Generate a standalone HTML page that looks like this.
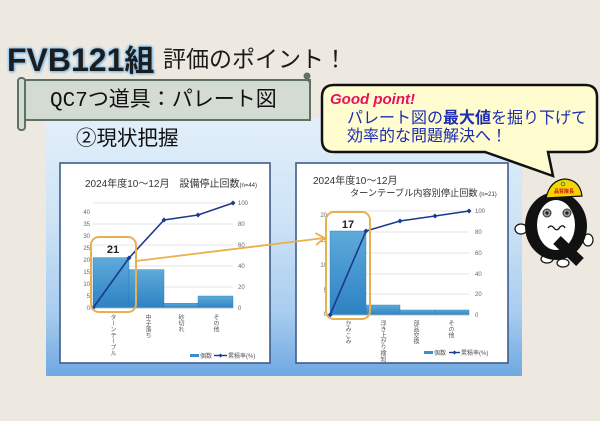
<!DOCTYPE html>
<html><head><meta charset="utf-8">
<style>
html,body{margin:0;padding:0;}
body{width:600px;height:421px;position:relative;overflow:hidden;background:#EDE9E0;font-family:"Liberation Sans","Noto Sans CJK JP",sans-serif;}
.abs{position:absolute;white-space:nowrap;}
.vt{position:absolute;writing-mode:vertical-rl;font-size:6px;line-height:6px;color:#555;font-family:"Liberation Sans","Noto Sans CJK JP",sans-serif;white-space:nowrap;}
</style></head><body>

<!-- blue panel -->
<div class="abs" style="left:46px;top:118px;width:476px;height:258px;background:linear-gradient(to bottom,#e2effa 0%,#cde3f6 40%,#a9cdef 75%,#6fa8e2 100%);"></div>

<svg class="abs" style="left:0;top:0" width="600" height="421" viewBox="0 0 600 421" xmlns="http://www.w3.org/2000/svg">
<defs>
<linearGradient id="bar" x1="0" y1="0" x2="0" y2="1">
<stop offset="0" stop-color="#5eaadb"/><stop offset="1" stop-color="#2d82c2"/>
</linearGradient>
</defs>

<!-- banner -->
<rect x="18" y="78" width="7" height="52" rx="3" fill="#D3DBD2" stroke="#5E7264" stroke-width="2"/>
<rect x="25" y="80" width="285" height="40" fill="#D3DBD2" stroke="#5E7264" stroke-width="2"/>
<circle cx="307" cy="76" r="3.5" fill="#5E7264"/>
<line x1="307" y1="76" x2="309" y2="82" stroke="#5E7264" stroke-width="2"/>

<!-- speech bubble -->
<path d="M 334 85 H 585 Q 597 85 597 97 V 140 Q 597 152 585 152 H 548 L 553 176 L 485 152 H 334 Q 322 152 322 140 V 97 Q 322 85 334 85 Z" fill="#FFFCCF" stroke="#111" stroke-width="2.5"/>

<!-- LEFT CHART -->
<rect x="60" y="163" width="210" height="200" fill="#fff" stroke="#3f5d8c" stroke-width="1.6"/>
<g stroke="#dcdcdc" stroke-width="0.8">
<line x1="93" y1="203" x2="233" y2="203"/><line x1="93" y1="224" x2="233" y2="224"/>
<line x1="93" y1="245" x2="233" y2="245"/><line x1="93" y1="266" x2="233" y2="266"/>
<line x1="93" y1="287" x2="233" y2="287"/>
</g>
<g fill="url(#bar)" stroke="#2a78b5" stroke-width="0.4">
<rect x="93" y="257.6" width="36" height="50.4"/>
<rect x="129" y="269.6" width="35" height="38.4"/>
<rect x="164" y="303.2" width="34" height="4.8"/>
<rect x="198" y="296" width="35" height="12"/>
</g>
<line x1="93" y1="308" x2="233" y2="308" stroke="#bbb" stroke-width="0.8"/>
<g font-size="6" fill="#666" text-anchor="end">
<text x="90" y="214">40</text><text x="90" y="226">35</text><text x="90" y="238">30</text>
<text x="90" y="250">25</text><text x="90" y="262">20</text><text x="90" y="274">15</text>
<text x="90" y="286">10</text><text x="90" y="298">5</text><text x="90" y="310">0</text>
</g>
<g font-size="6" fill="#666">
<text x="238" y="205">100</text><text x="238" y="226">80</text><text x="238" y="247">60</text>
<text x="238" y="268">40</text><text x="238" y="289">20</text><text x="238" y="310">0</text>
</g>
<polyline points="93,308 129,258 164,220 198,215 233,203" fill="none" stroke="#1B3A8C" stroke-width="1.6"/>
<g fill="#1B3A8C">
<path d="M93 305.5 L95.5 308 L93 310.5 L90.5 308Z"/><path d="M129 255.5 L131.5 258 L129 260.5 L126.5 258Z"/>
<path d="M164 217.5 L166.5 220 L164 222.5 L161.5 220Z"/><path d="M198 212.5 L200.5 215 L198 217.5 L195.5 215Z"/>
<path d="M233 200.5 L235.5 203 L233 205.5 L230.5 203Z"/>
</g>
<text x="85" y="187" font-size="10" fill="#333">2024年度10〜12月　設備停止回数<tspan font-size="6">(n=44)</tspan></text>
<rect x="91" y="237" width="45" height="75" rx="8" fill="none" stroke="#E9B04E" stroke-width="2"/>
<text x="113" y="253" font-size="11" font-weight="bold" fill="#222" text-anchor="middle">21</text>
<!-- legend left -->
<rect x="190" y="354" width="9" height="3" fill="#3b8fcc"/>
<text x="200" y="358" font-size="6" fill="#555">個数</text>
<line x1="214" y1="355.5" x2="227" y2="355.5" stroke="#1B3A8C" stroke-width="1.4"/>
<path d="M220.5 353.5 L222.5 355.5 L220.5 357.5 L218.5 355.5Z" fill="#1B3A8C"/>
<text x="228" y="358" font-size="6" fill="#555">累積率(%)</text>

<!-- RIGHT CHART -->
<rect x="296" y="163" width="212" height="200" fill="#fff" stroke="#3f5d8c" stroke-width="1.6"/>
<g stroke="#dcdcdc" stroke-width="0.8">
<line x1="330" y1="211" x2="469" y2="211"/><line x1="330" y1="232" x2="469" y2="232"/>
<line x1="330" y1="253" x2="469" y2="253"/><line x1="330" y1="274" x2="469" y2="274"/>
<line x1="330" y1="294" x2="469" y2="294"/>
</g>
<g fill="url(#bar)" stroke="#2a78b5" stroke-width="0.4">
<rect x="330" y="231" width="36" height="84"/>
<rect x="366" y="305" width="34" height="10"/>
<rect x="400" y="310" width="35" height="5"/>
<rect x="435" y="310" width="34" height="5"/>
</g>
<line x1="330" y1="315" x2="469" y2="315" stroke="#bbb" stroke-width="0.8"/>
<g font-size="6" fill="#666" text-anchor="end">
<text x="327" y="217">20</text><text x="327" y="242">15</text><text x="327" y="267">10</text>
<text x="327" y="292">5</text><text x="327" y="316">0</text>
</g>
<g font-size="6" fill="#666">
<text x="475" y="213">100</text><text x="475" y="234">80</text><text x="475" y="255">60</text>
<text x="475" y="276">40</text><text x="475" y="296">20</text><text x="475" y="317">0</text>
</g>
<polyline points="330,315 366,231 400,221 435,216 469,211" fill="none" stroke="#1B3A8C" stroke-width="1.6"/>
<g fill="#1B3A8C">
<path d="M330 312.5 L332.5 315 L330 317.5 L327.5 315Z"/><path d="M366 228.5 L368.5 231 L366 233.5 L363.5 231Z"/>
<path d="M400 218.5 L402.5 221 L400 223.5 L397.5 221Z"/><path d="M435 213.5 L437.5 216 L435 218.5 L432.5 216Z"/>
<path d="M469 208.5 L471.5 211 L469 213.5 L466.5 211Z"/>
</g>
<text x="313" y="184" font-size="10" fill="#333">2024年度10〜12月</text>
<text x="350" y="196" font-size="9.2" fill="#333">ターンテーブル内容別停止回数<tspan font-size="6"> (n=21)</tspan></text>
<rect x="326" y="212" width="44" height="107" rx="8" fill="none" stroke="#E9B04E" stroke-width="2"/>
<text x="348" y="228" font-size="11" font-weight="bold" fill="#222" text-anchor="middle">17</text>
<!-- legend right -->
<rect x="424" y="351" width="9" height="3" fill="#3b8fcc"/>
<text x="434" y="355" font-size="6" fill="#555">個数</text>
<line x1="449" y1="352.5" x2="460" y2="352.5" stroke="#1B3A8C" stroke-width="1.4"/>
<path d="M454.5 350.5 L456.5 352.5 L454.5 354.5 L452.5 352.5Z" fill="#1B3A8C"/>
<text x="461" y="355" font-size="6" fill="#555">累積率(%)</text>

<!-- arrow -->
<line x1="136" y1="261" x2="324" y2="238" stroke="#E9B04E" stroke-width="1.8"/>
<polyline points="315.5,233 324.5,238 316,245" fill="none" stroke="#E9B04E" stroke-width="1.8"/>

<!-- mascot -->
<ellipse cx="521" cy="229" rx="6" ry="5" fill="#fff" stroke="#111" stroke-width="1.2"/>
<ellipse cx="588" cy="240" rx="5" ry="6" fill="#fff" stroke="#111" stroke-width="1.2"/>
<ellipse cx="547" cy="259" rx="6" ry="4" fill="#fff" stroke="#111" stroke-width="1.2"/>
<ellipse cx="563" cy="263" rx="6" ry="4" fill="#fff" stroke="#111" stroke-width="1.2"/>
<ellipse cx="556" cy="226" rx="31" ry="34" fill="#111"/>
<ellipse cx="556" cy="225" rx="19" ry="25" fill="#fff"/>
<line x1="557" y1="240" x2="580" y2="262" stroke="#111" stroke-width="11"/>
<circle cx="547" cy="213" r="4" fill="#999" stroke="#333" stroke-width="1"/>
<circle cx="547" cy="213" r="1.6" fill="#222"/>
<circle cx="567" cy="213" r="4" fill="#999" stroke="#333" stroke-width="1"/>
<circle cx="567" cy="213" r="1.6" fill="#222"/>
<path d="M548 228 Q551 224 554 228 Q557 232 560 227 Q563 224 565 228" fill="none" stroke="#111" stroke-width="1.3"/>
<path d="M546 198 Q550 180 565 179 Q580 180 582 196 Z" fill="#F6D400" stroke="#111" stroke-width="1.2"/>
<circle cx="563" cy="184" r="1.8" fill="none" stroke="#2a8a3a" stroke-width="0.9"/>
<text x="564" y="193" font-size="5" font-weight="bold" fill="#d0101c" text-anchor="middle">品質隊長</text>
</svg>

<!-- headings -->
<div class="abs" style="left:7px;top:38px;font-size:32px;font-weight:bold;color:#1d1d1d;line-height:40px;text-shadow:0 0 2px #8cc4ee,0 0 3px #8cc4ee,1px 1px 2px #6aaee6,-1px -1px 2px #b8dcf6;">FVB121<span style="font-family:'Noto Sans CJK JP',sans-serif;font-size:30px;">組</span></div>
<div class="abs" style="left:163px;top:42px;font-size:23px;line-height:30px;color:#1a1a1a;font-family:'Noto Sans CJK JP',sans-serif;">評価のポイント！</div>
<div class="abs" style="left:50px;top:84px;font-size:21px;line-height:28px;color:#111;"><span style="font-family:'Liberation Mono',monospace;">QC7</span><span style="font-family:'Noto Sans CJK JP',sans-serif;">つ道具：パレート図</span></div>
<div class="abs" style="left:76px;top:122px;font-size:20.5px;line-height:28px;color:#111;font-family:'Noto Sans CJK JP',sans-serif;">②現状把握</div>

<!-- bubble text -->
<div class="abs" style="left:330px;top:91px;font-size:15px;line-height:18px;font-weight:bold;font-style:italic;color:#E8125C;">Good point!</div>
<div class="abs" style="left:347px;top:107px;font-size:16px;line-height:18px;color:#1c2db0;font-family:'Noto Sans CJK JP',sans-serif;">パレート図の<b>最大値</b>を掘り下げて</div>
<div class="abs" style="left:347px;top:125px;font-size:16px;line-height:18px;color:#1c2db0;font-family:'Noto Sans CJK JP',sans-serif;">効率的な問題解決へ！</div>

<!-- category labels left -->
<div class="vt" style="left:109px;top:314px;">ターンテーブル</div>
<div class="vt" style="left:144px;top:314px;">中子落ち</div>
<div class="vt" style="left:177px;top:314px;">砂切れ</div>
<div class="vt" style="left:212px;top:314px;">その他</div>
<!-- category labels right -->
<div class="vt" style="left:344px;top:320px;">かみこみ</div>
<div class="vt" style="left:379px;top:320px;">浮き上がり検知</div>
<div class="vt" style="left:412px;top:320px;">部品交換</div>
<div class="vt" style="left:447px;top:320px;">その他</div>

</body></html>
